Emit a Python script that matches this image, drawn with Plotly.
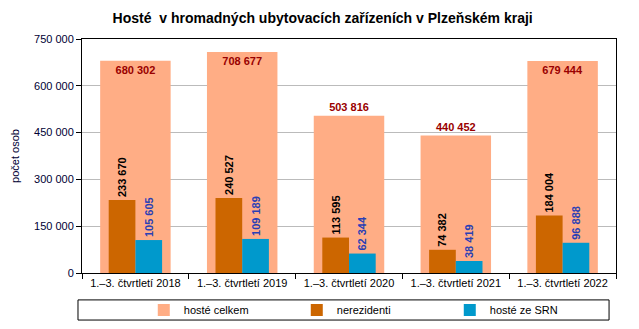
import plotly.graph_objects as go

# data
obdobi = ["1.–3. čtvrtletí 2018", "1.–3. čtvrtletí 2019", "1.–3. čtvrtletí 2020",
          "1.–3. čtvrtletí 2021", "1.–3. čtvrtletí 2022"]
hoste_celkem = [680302, 708677, 503816, 440452, 679444]
nerezidenti = [233670, 240527, 113595, 74382, 184004]
hoste_srn = [105605, 109189, 62344, 38419, 96888]


def fmt(v):
    return f"{v:,}".replace(",", " ")


FONT = "Liberation Sans, Arial, sans-serif"

fig = go.Figure()

# hosté celkem - široký podkladový sloupec
fig.add_trace(go.Bar(
    x=obdobi, y=hoste_celkem, name="hosté celkem",
    marker=dict(color="#FFAD85", line_width=0),
    width=0.66, offset=-0.33,
    text=[fmt(v) for v in hoste_celkem],
    textposition=["inside", "inside", "outside", "outside", "inside"],
    insidetextanchor="end",
    textangle=0,
    constraintext="none",
    textfont=dict(family=FONT, size=11, color="#990000", weight="bold"),
    cliponaxis=False,
))

# nerezidenti
fig.add_trace(go.Bar(
    x=obdobi, y=nerezidenti, name="nerezidenti",
    marker=dict(color="#CC6600", line_width=0),
    width=0.25, offset=-0.25,
    text=[fmt(v) for v in nerezidenti],
    textposition="outside", textangle=-90,
    constraintext="none",
    textfont=dict(family=FONT, size=11, color="black", weight="bold"),
    cliponaxis=False,
))

# hosté ze SRN
fig.add_trace(go.Bar(
    x=obdobi, y=hoste_srn, name="hosté ze SRN",
    marker=dict(color="#0099CC", line_width=0),
    width=0.25, offset=0,
    text=[fmt(v) for v in hoste_srn],
    textposition="outside", textangle=-90,
    constraintext="none",
    textfont=dict(family=FONT, size=11, color="#2A3FB5", weight="bold"),
    cliponaxis=False,
))

fig.update_layout(
    width=639, height=329,
    margin=dict(l=82, r=23, t=39, b=56, autoexpand=False),
    paper_bgcolor="white", plot_bgcolor="white",
    barmode="overlay",
    separators=". ",
    font=dict(family=FONT, size=11, color="black"),
    title=dict(
        text="<b>Hosté  v hromadných ubytovacích zařízeních v Plzeňském kraji</b>",
        xref="container", x=0.505, xanchor="center",
        yref="container", y=0.945, yanchor="middle",
        font=dict(family="Liberation Sans Narrow, Arial Narrow, sans-serif", size=14, color="black"),
    ),
    showlegend=True,
    legend=dict(
        orientation="h",
        xref="container", x=0.225, xanchor="left",
        yref="container", y=0.058, yanchor="middle",
        entrywidth=108, bgcolor="rgba(0,0,0,0)",
        font=dict(family=FONT, size=11, color="black"),
        traceorder="normal",
    ),
    shapes=[dict(
        type="rect", xref="paper", yref="paper",
        x0=-0.0075, x1=0.987, y0=-0.201, y1=-0.115,
        line=dict(color="black", width=1),
    )],
)

fig.update_xaxes(
    automargin=False,
    showline=True, linecolor="black", linewidth=1, mirror=True,
    ticks="outside", tickson="boundaries", ticklen=5, tickcolor="black",
    tickfont=dict(family=FONT, size=11, color="black"),
    showgrid=False,
)
fig.update_yaxes(
    automargin=False,
    range=[0, 750000], dtick=150000, tickformat=",d",
    showline=True, linecolor="black", linewidth=1, mirror=True,
    ticks="outside", ticklen=5, tickcolor="black",
    gridcolor="#BBBBBB", gridwidth=1,
    tickfont=dict(family=FONT, size=11, color="#000033"),
    title=dict(text="počet osob", font=dict(family=FONT, size=11, color="#000033"), standoff=12),
    zeroline=False,
)

# stránka bez okraje, aby graf seděl na 0,0
fig.write_html("out.html", config={"displayModeBar": False},
               post_script="document.body.style.margin='0';")
